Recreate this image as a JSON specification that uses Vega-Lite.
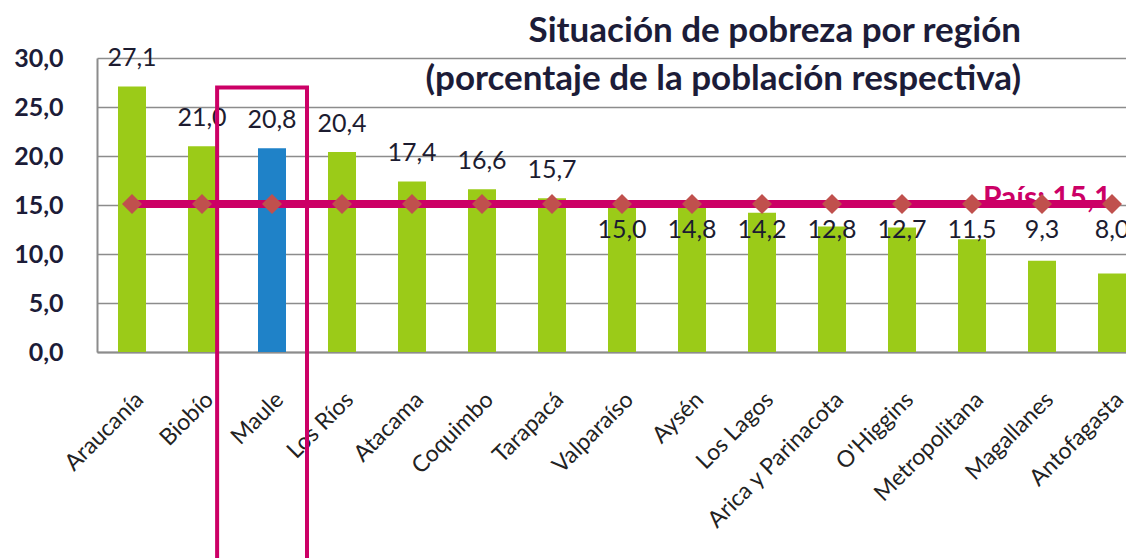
{
  "$schema": "https://vega.github.io/schema/vega-lite/v6.json",
  "width": 1029,
  "height": 294,
  "autosize": {"type": "none"},
  "padding": {"left": 97, "top": 58, "right": 0, "bottom": 206},
  "config": {
    "locale": {"number": {"decimal": ",", "thousands": ".", "grouping": [3], "currency": ["$", ""]}},
    "view": {"stroke": null},
    "font": "Lato"
  },
  "title": {
    "text": ["Situación de pobreza por región", "(porcentaje de la población respectiva)"],
    "anchor": "end",
    "align": "right",
    "dx": -126,
    "offset": -51,
    "fontSize": 35,
    "fontWeight": "bold",
    "font": "Lato",
    "color": "#1c1c38",
    "lineHeight": 48
  },
  "data": {
    "values": [
      {"region": "Araucanía", "pobreza": 27.1, "pais": 15.1},
      {"region": "Biobío", "pobreza": 21.0, "pais": 15.1},
      {"region": "Maule", "pobreza": 20.8, "pais": 15.1},
      {"region": "Los Ríos", "pobreza": 20.4, "pais": 15.1},
      {"region": "Atacama", "pobreza": 17.4, "pais": 15.1},
      {"region": "Coquimbo", "pobreza": 16.6, "pais": 15.1},
      {"region": "Tarapacá", "pobreza": 15.7, "pais": 15.1},
      {"region": "Valparaíso", "pobreza": 15.0, "pais": 15.1},
      {"region": "Aysén", "pobreza": 14.8, "pais": 15.1},
      {"region": "Los Lagos", "pobreza": 14.2, "pais": 15.1},
      {"region": "Arica y Parinacota", "pobreza": 12.8, "pais": 15.1},
      {"region": "O'Higgins", "pobreza": 12.7, "pais": 15.1},
      {"region": "Metropolitana", "pobreza": 11.5, "pais": 15.1},
      {"region": "Magallanes", "pobreza": 9.3, "pais": 15.1},
      {"region": "Antofagasta", "pobreza": 8.0, "pais": 15.1}
    ]
  },
  "encoding": {
    "x": {
      "field": "region",
      "type": "nominal",
      "sort": null,
      "title": null,
      "scale": {"range": [0, 1050], "paddingInner": 0.6, "paddingOuter": 0.3},
      "axis": {
        "labelAngle": -45,
        "labelFontSize": 23,
        "labelColor": "#222222",
        "labelFont": "Lato",
        "labelPadding": 36,
        "labelDx": -6,
        "labelLimit": 400,
        "labelOverlap": false,
        "labelBound": false,
        "ticks": false,
        "domainColor": "#8c8c8c",
        "domainWidth": 2,
        "grid": false
      }
    }
  },
  "layer": [
    {
      "mark": {"type": "bar"},
      "encoding": {
        "y": {
          "field": "pobreza",
          "type": "quantitative",
          "title": null,
          "scale": {"domain": [0, 30]},
          "axis": {
            "values": [0, 5, 10, 15, 20, 25, 30],
            "format": ".1f",
            "labelFontSize": 25,
            "labelFontWeight": "bold",
            "labelColor": "#1c1c38",
            "labelPadding": 34,
            "ticks": false,
            "domainColor": "#8c8c8c",
            "domainWidth": 2,
            "gridColor": "#8c8c8c",
            "gridWidth": 1.6
          }
        },
        "color": {
          "condition": {"test": "datum.region === 'Maule'", "value": "#1F82C8"},
          "value": "#9BCB18"
        }
      }
    },
    {
      "transform": [{"filter": "datum.pobreza > 15.1"}],
      "mark": {"type": "text", "baseline": "middle", "dy": -28, "fontSize": 25, "color": "#1c1c30"},
      "encoding": {
        "y": {"field": "pobreza", "type": "quantitative"},
        "text": {"field": "pobreza", "type": "quantitative", "format": ".1f"}
      }
    },
    {
      "transform": [{"filter": "datum.pobreza <= 15.1"}],
      "mark": {"type": "text", "baseline": "middle", "fontSize": 25, "color": "#1c1c30"},
      "encoding": {
        "y": {"datum": 12.4, "type": "quantitative"},
        "text": {"field": "pobreza", "type": "quantitative", "format": ".1f"}
      }
    },
    {
      "data": {"values": [{"etiqueta": "País: 15,1", "pos": "Magallanes", "valor": 15.1}]},
      "mark": {"type": "text", "align": "left", "baseline": "alphabetic", "dx": -59, "dy": 4, "fontSize": 30, "fontWeight": "bold", "color": "#CC0066"},
      "encoding": {
        "x": {"field": "pos", "type": "nominal"},
        "y": {"field": "valor", "type": "quantitative"},
        "text": {"field": "etiqueta"}
      }
    },
    {
      "mark": {"type": "line", "color": "#CC0066", "strokeWidth": 8},
      "encoding": {
        "y": {"field": "pais", "type": "quantitative"}
      }
    },
    {
      "mark": {"type": "point", "shape": "diamond", "filled": true, "size": 400, "color": "#C0504D", "opacity": 1},
      "encoding": {
        "y": {"field": "pais", "type": "quantitative"}
      }
    },
    {
      "data": {"values": [{"desde": "Maule", "hasta": "Maule", "arriba": 27.0, "abajo": -22}]},
      "mark": {"type": "rect", "filled": false, "stroke": "#CC0066", "strokeWidth": 4},
      "encoding": {
        "x": {"field": "desde", "type": "nominal", "bandPosition": -1.46},
        "x2": {"field": "hasta", "bandPosition": 1.75},
        "y": {"field": "arriba", "type": "quantitative"},
        "y2": {"field": "abajo"}
      }
    }
  ]
}
